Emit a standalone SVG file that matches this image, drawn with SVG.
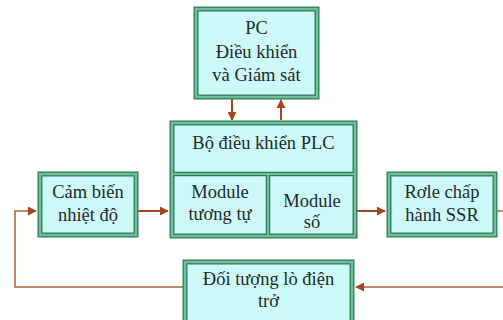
<svg xmlns="http://www.w3.org/2000/svg" width="503" height="320" viewBox="0 0 503 320">
<defs>
<marker id="ah" viewBox="0 0 10 10" refX="9" refY="5" markerWidth="4.5" markerHeight="4.5" orient="auto" markerUnits="strokeWidth">
<path d="M0,0 L10,5 L0,10 z" fill="#a4471c"/>
</marker>
<marker id="ah2" viewBox="0 0 10 10" refX="9" refY="5" markerWidth="6" markerHeight="6" orient="auto" markerUnits="strokeWidth">
<path d="M0,0 L10,5 L0,10 z" fill="#a4471c"/>
</marker>
</defs>
<style>
.box{fill:#cdf9f9;stroke:#2f7d5c;stroke-width:5}
.band{fill:none;stroke:#6fc096;stroke-width:2.4}
.div{stroke:#2f7d5c;stroke-width:4.5}
.divb{stroke:#6fc096;stroke-width:2}
.t{font-size:18.5px;fill:#1e2a2a;text-anchor:middle}
.c{fill:none;stroke:#a4471c;stroke-width:2}
.f{fill:none;stroke:#a8643c;stroke-width:1.5}
</style>
<rect width="503" height="320" fill="#ffffff"/>
<g id="connectors">
<path class="c" d="M232,99 V120" marker-end="url(#ah)"/>
<path class="c" d="M281,120 V100" marker-end="url(#ah)"/>
<path class="c" d="M138,211 H168" marker-end="url(#ah)"/>
<path class="c" d="M357,211 H385" marker-end="url(#ah)"/>
<path class="f" d="M497,211 H515 V287 H356" marker-end="url(#ah2)"/>
<path class="f" d="M183,287 H15 V211 H36" marker-end="url(#ah2)"/>
</g>
<g font-family="'Liberation Serif', 'DejaVu Serif', 'Times New Roman', serif">
<g id="pc">
<rect class="box" x="196" y="9" width="121" height="88"/>
<rect class="band" x="196" y="9" width="121" height="88"/>
<text class="t" x="256.5" y="34">PC</text>
<text class="t" x="256.5" y="58">Điều khiển</text>
<text class="t" x="256.5" y="81">và Giám sát</text>
</g>
<g id="plc">
<rect class="box" x="172" y="123" width="183" height="113"/>
<line class="div" x1="172" y1="174" x2="355" y2="174"/>
<line class="div" x1="268" y1="174" x2="268" y2="236"/>
<rect class="band" x="172" y="123" width="183" height="113"/>
<line class="divb" x1="172" y1="174" x2="355" y2="174"/>
<line class="divb" x1="268" y1="174" x2="268" y2="236"/>
<text class="t" x="263.5" y="149">Bộ điều khiển PLC</text>
</g>
<g id="module-tuong-tu">
<text class="t" x="220" y="198">Module</text>
<text class="t" x="220" y="220">tương tự</text>
</g>
<g id="module-so">
<text class="t" x="312" y="207">Module</text>
<text class="t" x="312" y="228">số</text>
</g>
<g id="cam-bien">
<rect class="box" x="40" y="174" width="96" height="61"/>
<rect class="band" x="40" y="174" width="96" height="61"/>
<text class="t" x="88" y="198">Cảm biến</text>
<text class="t" x="88" y="221">nhiệt độ</text>
</g>
<g id="role">
<rect class="box" x="389" y="174" width="106" height="61"/>
<rect class="band" x="389" y="174" width="106" height="61"/>
<text class="t" x="442" y="198">Rơle chấp</text>
<text class="t" x="442" y="221">hành SSR</text>
</g>
<g id="doi-tuong">
<rect class="box" x="185" y="262" width="167" height="70"/>
<rect class="band" x="185" y="262" width="167" height="70"/>
<text class="t" x="268.5" y="285">Đối tượng lò điện</text>
<text class="t" x="268.5" y="307">trở</text>
</g>
</g>
</svg>
